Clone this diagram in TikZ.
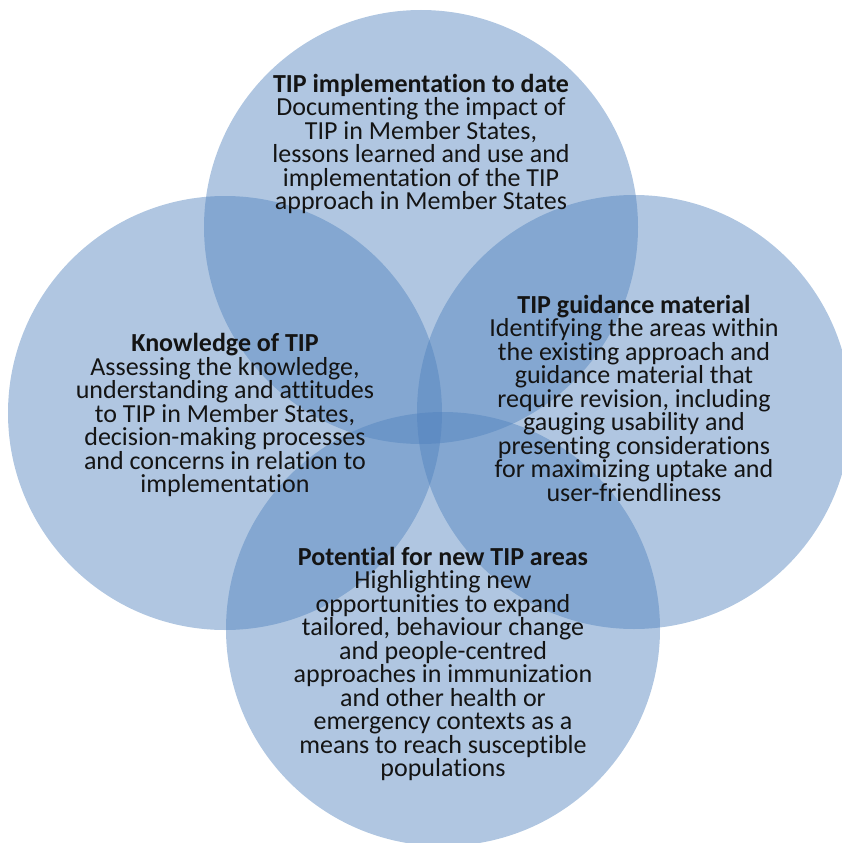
\documentclass[tikz,border=0pt]{standalone}
\usepackage{fontspec}
\setmainfont{Carlito}[Ligatures=NoCommon]
\usetikzlibrary{positioning}
\definecolor{tip blue}{RGB}{79,129,189}

\begin{document}
\begin{tikzpicture}[x=1pt,y=-1pt,
  area/.style={circle,fill=tip blue,fill opacity=0.45,draw=none,minimum size=434pt,inner sep=0},
  blurb/.style={align=center,font=\fontsize{26}{23.5}\selectfont,text=black!92,inner sep=0},
]
  \clip (0,0) rectangle (842,843);

  % the four circles
  \node[area] (top)    at (421,227) {};
  \node[area] (left)   at (225,413) {};
  \node[area] (right)  at (634,412) {};
  \node[area] (bottom) at (443,629) {};

  % texts
  \node[blurb] (top text) at (421,144)
    {\textbf{TIP implementation to date}\\
     Documenting the impact of\\
     TIP in Member States,\\
     lessons learned and use and\\
     implementation of the TIP\\
     approach in Member States};
  \node[blurb] (left text) at (225,415)
    {\textbf{Knowledge of TIP}\\
     Assessing the knowledge,\\
     understanding and attitudes\\
     to TIP in Member States,\\
     decision-making processes\\
     and concerns in relation to\\
     implementation};
  \node[blurb] (right text) at (634,398)
    {\textbf{TIP guidance material}\\
     Identifying the areas within\\
     the existing approach and\\
     guidance material that\\
     require revision, including\\
     gauging usability and\\
     presenting considerations\\
     for maximizing uptake and\\
     user-friendliness};
  \node[blurb] (bottom text) at (443,664)
    {\textbf{Potential for new TIP areas}\\
     Highlighting new\\
     opportunities to expand\\
     tailored, behaviour change\\
     and people-centred\\
     approaches in immunization\\
     and other health or\\
     emergency contexts as a\\
     means to reach susceptible\\
     populations};
\end{tikzpicture}
\end{document}
